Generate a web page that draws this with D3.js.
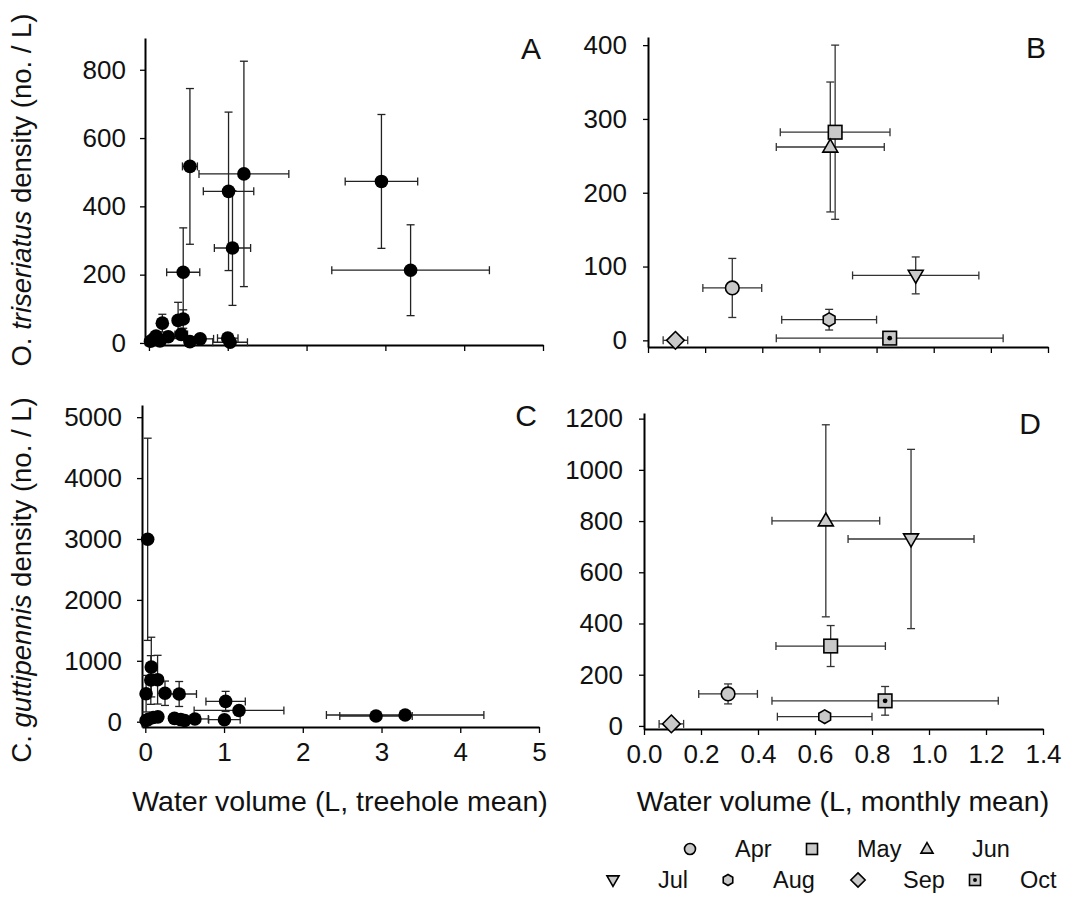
<!DOCTYPE html>
<html>
<head>
<meta charset="utf-8">
<script src="https://cdn.jsdelivr.net/npm/d3@7"></script>
<style>
body{margin:0;background:#fff}
text{font-family:"Liberation Sans",Arial,sans-serif;fill:#111}
</style>
</head>
<body>
<svg id="chart" width="1071" height="898"></svg>
<script>
// treehole means, panel A (O. triseriatus) : volume, volume SE, density, density SE
const aVolume    = [0.02, 0.06, 0.09, 0.14, 0.17, 0.245, 0.37, 0.435, 0.41, 0.52, 0.65, 1.0, 1.03, 0.435, 0.52, 1.205, 1.01, 1.06, 2.95, 3.32]
const aVolumeSE  = [0.02, 0.03, 0.04, 0.04, 0.04, 0.05, 0.06, 0.06, 0.08, 0.05, 0.17, 0.13, 0.22, 0.21, 0.095, 0.57, 0.32, 0.23, 0.46, 1.0]
const aDensity   = [5, 12, 20, 6, 58, 18, 66, 70, 25, 4, 12, 14, 2, 207, 517, 495, 444, 278, 473, 213]
const aDensitySE = [5, 8, 10, 5, 26, 10, 53, 27, 15, 5, 8, 8, 3, 130, 228, 330, 232, 168, 196, 133]

// treehole means, panel C (C. guttipennis)
const cVolume    = [0.03, 0.076, 0.07, 0.156, 0.01, 0.25, 0.43, 1.02, 1.19, 1.005, 0.63, 0.45, 0.37, 0.16, 0.1, 0.04, 0.01, 0.5, 2.93, 3.30]
const cVolumeSE  = [0.01, 0.02, 0.03, 0.04, 0.02, 0.05, 0.22, 0.25, 0.57, 0.2, 0.17, 0.08, 0.06, 0.04, 0.04, 0.03, 0.02, 0.05, 0.46, 1.0]
const cDensity   = [2995, 897, 685, 690, 460, 467, 455, 333, 185, 33, 45, 35, 55, 80, 70, 40, 20, 20, 94, 110]
const cDensitySE = [1660, 490, 400, 400, 300, 200, 205, 165, 60, 40, 40, 30, 60, 40, 40, 30, 20, 20, 30, 40]

// monthly means, panels B and D
const months      = ['Apr', 'May', 'Jun', 'Jul', 'Aug', 'Sep', 'Oct']
const monthShapes = ['circle', 'square', 'tri', 'tridown', 'hex', 'diamond', 'sqdot']
const monthVolume   = [0.295, 0.655, 0.638, 0.937, 0.634, 0.096, 0.846]
const monthVolumeSE = [0.103, 0.192, 0.189, 0.221, 0.166, 0.043, 0.397]
const otDensity   = [71, 282, 262, 88, 28, 0, 3]
const otDensitySE = [40, 118, 88, 25, 14, 0, 4]
const cgDensity   = [125, 312, 801, 730, 36, 8, 98]
const cgDensitySE = [39, 80, 375, 350, 10, 5, 56]

// ticks
const treeholeTicks = [0, 1, 2, 3, 4, 5]
const monthlyTicks  = [0, 0.2, 0.4, 0.6, 0.8, 1.0, 1.2, 1.4]
const aTicks = [0, 200, 400, 600, 800]
const bTicks = [0, 100, 200, 300, 400]
const cTicks = [0, 1000, 2000, 3000, 4000, 5000]
const dTicks = [0, 200, 400, 600, 800, 1000, 1200]

const svg = d3.select('#chart')
const grey = '#c9c9c9'

function marker(g, type, x, y, r){
    const s = g.append('g').attr('transform', `translate(${x},${y})`)
    const st = sel => sel.attr('fill', grey).attr('stroke', '#000').attr('stroke-width', 1.6)
    if(type == 'circle') st(s.append('circle').attr('r', r))
    else if(type == 'square' || type == 'sqdot') {
        st(s.append('rect').attr('x', -r).attr('y', -r).attr('width', 2*r).attr('height', 2*r))
        if(type == 'sqdot') s.append('circle').attr('r', r*0.35).attr('fill', '#000')
    }
    else if(type == 'tri' || type == 'tridown') {
        const k = type == 'tri' ? 1 : -1
        const pts = [[0, -r*1.15*k], [r*1.1, r*0.75*k], [-r*1.1, r*0.75*k]]
        st(s.append('path').attr('d', d3.line()(pts) + 'Z'))
    }
    else if(type == 'hex') {
        const pts = d3.range(6).map(i => [r*Math.cos(Math.PI/3*i + Math.PI/6), r*Math.sin(Math.PI/3*i + Math.PI/6)])
        st(s.append('path').attr('d', d3.line()(pts) + 'Z'))
    }
    else if(type == 'diamond') {
        const q = r*1.3
        st(s.append('path').attr('d', d3.line()([[0, -q], [q, 0], [0, q], [-q, 0]]) + 'Z'))
    }
}

function errorBars(g, x, y, vx, ex, vy, ey, color){
    const cap = 4
    const eg = g.append('g').attr('stroke', color).attr('stroke-width', 1.3).attr('fill', 'none')
    const x0 = x(vx - ex), x1 = x(vx + ex), yc = y(vy)
    if(ex > 0) {
        eg.append('line').attr('x1', x0).attr('x2', x1).attr('y1', yc).attr('y2', yc)
        eg.append('line').attr('x1', x0).attr('x2', x0).attr('y1', yc - cap).attr('y2', yc + cap)
        eg.append('line').attr('x1', x1).attr('x2', x1).attr('y1', yc - cap).attr('y2', yc + cap)
    }
    const y0 = y(vy - ey), y1 = y(vy + ey), xc = x(vx)
    if(ey > 0) {
        eg.append('line').attr('x1', xc).attr('x2', xc).attr('y1', y0).attr('y2', y1)
        eg.append('line').attr('x1', xc - cap).attr('x2', xc + cap).attr('y1', y0).attr('y2', y0)
        eg.append('line').attr('x1', xc - cap).attr('x2', xc + cap).attr('y1', y1).attr('y2', y1)
    }
}

function panel(opt){
    const g = svg.append('g')
    const x = d3.scaleLinear().domain(opt.xDomain).range(opt.xRange)
    const y = d3.scaleLinear().domain(opt.yDomain).range(opt.yRange)

    const xAxis = d3.axisBottom(x).tickValues(opt.xTicks).tickSizeOuter(0).tickSizeInner(6).tickPadding(10)
        .tickFormat(opt.xFormat ? opt.xFormat : '')
    const yAxis = d3.axisLeft(y).tickValues(opt.yTicks).tickSizeOuter(0).tickSizeInner(5).tickPadding(opt.yPad)
        .tickFormat(d3.format('d'))

    // axis lines start a little below zero on both axes, as in the original
    const xa = g.append('g').attr('transform', `translate(0,${opt.yRange[0]})`).call(xAxis)
    const ya = g.append('g').attr('transform', `translate(${opt.xRange[0]},0)`).call(yAxis)
    ;[xa, ya].forEach(a => {
        a.select('.domain').attr('stroke', '#000').attr('stroke-width', 2)
        a.selectAll('.tick line').attr('stroke', '#000').attr('stroke-width', 1.3)
        a.selectAll('.tick text').attr('font-size', 26).attr('font-family', '"Liberation Sans",Arial,sans-serif').attr('fill', '#111')
    })

    const n = opt.vx.length
    for(let i = 0; i < n; i++)
        errorBars(g, x, y, opt.vx[i], opt.ex[i], opt.vy[i], opt.ey[i], opt.barColor)
    for(let i = 0; i < n; i++) {
        if(opt.shapes) marker(g, opt.shapes[i], x(opt.vx[i]), y(opt.vy[i]), 6.8)
        else g.append('circle').attr('cx', x(opt.vx[i])).attr('cy', y(opt.vy[i])).attr('r', 6.8).attr('fill', '#000')
    }

    g.append('text')
        .attr('x', opt.xRange[1] - 2)
        .attr('y', opt.yRange[1] + 21)
        .attr('text-anchor', 'end')
        .attr('font-size', 30)
        .text(opt.letter)
    return g
}

panel({letter: 'A', xDomain: [-0.05, 5], xRange: [145, 543], yDomain: [-6, 893], yRange: [345, 38],
    xTicks: treeholeTicks, yTicks: aTicks, yPad: 14, barColor: '#222',
    vx: aVolume, ex: aVolumeSE, vy: aDensity, ey: aDensitySE})
panel({letter: 'B', xDomain: [0, 1.4], xRange: [648, 1048], yDomain: [-9, 411], yRange: [347, 37],
    xTicks: monthlyTicks, yTicks: bTicks, yPad: 16, barColor: '#333', shapes: monthShapes,
    vx: monthVolume, ex: monthVolumeSE, vy: otDensity, ey: otDensitySE})
panel({letter: 'C', xDomain: [-0.042, 5], xRange: [142, 539], yDomain: [-87, 5200], yRange: [727, 405],
    xTicks: treeholeTicks, yTicks: cTicks, yPad: 15, barColor: '#222', xFormat: d3.format('d'),
    vx: cVolume, ex: cVolumeSE, vy: cDensity, ey: cDensitySE})
panel({letter: 'D', xDomain: [0, 1.4], xRange: [644, 1043], yDomain: [-12, 1222], yRange: [729, 413],
    xTicks: monthlyTicks, yTicks: dTicks, yPad: 16, barColor: '#333', shapes: monthShapes, xFormat: d3.format('.1f'),
    vx: monthVolume, ex: monthVolumeSE, vy: cgDensity, ey: cgDensitySE})

// axis titles
svg.append('text').attr('x', 340).attr('y', 811).attr('text-anchor', 'middle').attr('font-size', 28.5)
    .text('Water volume (L, treehole mean)')
svg.append('text').attr('x', 843).attr('y', 811).attr('text-anchor', 'middle').attr('font-size', 28.5)
    .text('Water volume (L, monthly mean)')

function yTitle(cy, genus, species){
    const t = svg.append('text')
        .attr('transform', `translate(31,${cy}) rotate(-90)`)
        .attr('text-anchor', 'middle')
        .attr('font-size', 27.5)
    t.append('tspan').text(genus + ' ')
    t.append('tspan').attr('font-style', 'italic').text(species)
    t.append('tspan').text(' density (no. / L)')
}
yTitle(190, 'O.', 'triseriatus')
yTitle(580, 'C.', 'guttipennis')

// legend, two rows
const legendRows = [[0, 1, 2], [3, 4, 5, 6]]
const legendX = [[690, 812, 927], [613, 728, 858, 975]]
const legendY = [849, 880]
legendRows.forEach((row, ri) => {
    row.forEach((m, j) => {
        const lx = legendX[ri][j]
        marker(svg, monthShapes[m], lx, legendY[ri], 5.5)
        svg.append('text').attr('x', lx + 45).attr('y', legendY[ri] + 8).attr('font-size', 23.5)
            .text(months[m])
    })
})
</script>
</body>
</html>
